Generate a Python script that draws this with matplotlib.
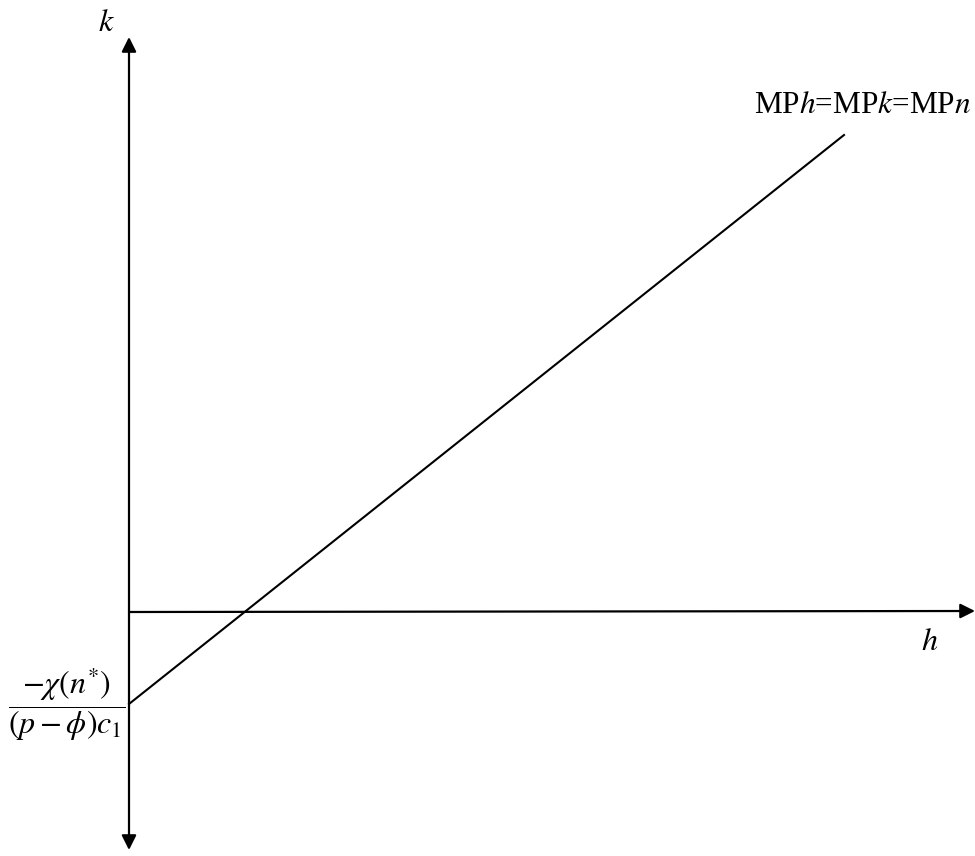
import matplotlib.pyplot as plt

plt.rcParams['mathtext.fontset'] = 'stix'
plt.rcParams['font.family'] = ['Liberation Serif', 'DejaVu Serif']

# diagram coordinates: origin where the two axes cross, units roughly pixels
h_range = [-129, 846]
k_range = [-244, 612]

# the MPh=MPk=MPn locus
line_h = [0, 715]
line_k = [-92, 477]

fig = plt.figure(figsize=(9.75, 8.56), dpi=100)
ax = fig.add_axes([0, 0, 1, 1])
ax.set_xlim(h_range)
ax.set_ylim(k_range)
ax.axis('off')

arrow = dict(arrowstyle='-|>', color='black', lw=1.6, mutation_scale=22,
             shrinkA=0, shrinkB=0)
# k axis, arrows both ways
ax.annotate('', xy=(0, 575), xytext=(0, -238),
            arrowprops=dict(arrow, arrowstyle='<|-|>'))
# h axis
ax.annotate('', xy=(846, 1), xytext=(0, 0), arrowprops=arrow)

ax.plot(line_h, line_k, color='black', lw=1.5)

ax.text(-23, 589, '$k$', fontsize=23, ha='center', va='center')
ax.text(801, -30, '$h$', fontsize=23, ha='center', va='center')
ax.text(842, 499, 'MP$h$=MP$k$=MP$n$', fontsize=22.5, ha='right', va='baseline')
ax.text(-4, line_k[0], r'$\dfrac{-\chi(n^{*})}{(p-\phi)c_{1}}$', fontsize=23,
        ha='right', va='center')

plt.savefig('out.png', dpi=100)
